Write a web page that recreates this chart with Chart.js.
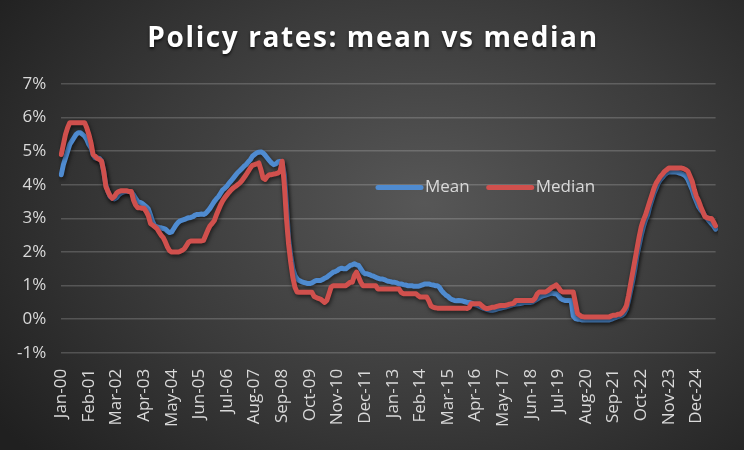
<!DOCTYPE html>
<html>
<head>
<meta charset="utf-8">
<script src="https://cdn.jsdelivr.net/npm/chart.js@4.4.1/dist/chart.umd.min.js"></script>
<style>
    html, body { margin: 0; padding: 0; }
    body {
        width: 744px;
        height: 450px;
        overflow: hidden;
        background: radial-gradient(ellipse 70% 85% at 57% 45%, #575757 0%, #3a3a3a 55%, #202020 100%);
    }
    #wrap { position: relative; width: 744px; height: 450px; }
</style>
</head>
<body>
<div id="wrap"><canvas id="chartRates"></canvas></div>
<script>
// monthly, Jan-2000 .. Sep-2025
const monthNames = ['Jan','Feb','Mar','Apr','May','Jun','Jul','Aug','Sep','Oct','Nov','Dec'];
const firstYear = 2000;
const labelEvery = 13;

const meanRates = [
    4.3, 4.6, 4.8, 5.0, 5.2, 5.3, 5.4, 5.5, 5.55, 5.55, 5.5, 5.45,
    5.35, 5.2, 5.1, 4.9, 4.8, 4.8, 4.78, 4.7, 4.4, 4.0, 3.8, 3.65,
    3.6, 3.58, 3.62, 3.7, 3.75, 3.78, 3.8, 3.8, 3.8, 3.78, 3.7, 3.6,
    3.5, 3.48, 3.45, 3.4, 3.35, 3.28, 3.1, 2.9, 2.78, 2.75, 2.73, 2.72,
    2.7, 2.68, 2.62, 2.58, 2.6, 2.7, 2.8, 2.88, 2.93, 2.95, 2.97, 3.0,
    3.02, 3.03, 3.05, 3.1, 3.12, 3.12, 3.13, 3.12, 3.15, 3.22, 3.3, 3.4,
    3.5, 3.58, 3.65, 3.75, 3.85, 3.9, 3.96, 4.05, 4.12, 4.2, 4.28, 4.36,
    4.42, 4.48, 4.55, 4.6, 4.68, 4.75, 4.85, 4.9, 4.95, 4.97, 4.98, 4.95,
    4.88, 4.8, 4.72, 4.65, 4.6, 4.62, 4.68, 4.7, 4.65, 4.3, 3.4, 2.4,
    1.9, 1.5, 1.3, 1.2, 1.15, 1.12, 1.1, 1.08, 1.06, 1.06, 1.08, 1.12,
    1.15, 1.15, 1.15, 1.18, 1.22, 1.25, 1.3, 1.35, 1.4, 1.42, 1.45, 1.5,
    1.52, 1.5, 1.5, 1.55, 1.6, 1.62, 1.65, 1.62, 1.6, 1.5, 1.4, 1.35,
    1.35, 1.33, 1.3, 1.28, 1.25, 1.22, 1.2, 1.2, 1.18, 1.15, 1.13, 1.12,
    1.1, 1.1, 1.08, 1.05, 1.05, 1.03, 1.02, 1.0, 1.0, 1.0, 0.98, 0.98,
    0.98, 1.0, 1.02, 1.05, 1.05, 1.05, 1.03, 1.02, 1.0, 1.0, 0.95, 0.85,
    0.78, 0.72, 0.68, 0.62, 0.58, 0.56, 0.55, 0.56, 0.55, 0.54, 0.52, 0.5,
    0.5, 0.48, 0.45, 0.43, 0.41, 0.38, 0.35, 0.32, 0.3, 0.28, 0.27, 0.27,
    0.28, 0.3, 0.32, 0.33, 0.35, 0.36, 0.38, 0.4, 0.42, 0.44, 0.45, 0.46,
    0.47, 0.48, 0.5, 0.5, 0.5, 0.5, 0.52, 0.56, 0.6, 0.64, 0.68, 0.7,
    0.72, 0.74, 0.76, 0.78, 0.76, 0.76, 0.7, 0.62, 0.58, 0.56, 0.56, 0.56,
    0.56, 0.1, 0.02, 0.0, 0.0, -0.02, -0.02, -0.02, -0.02, -0.02, -0.02, -0.02,
    -0.02, -0.02, -0.02, -0.02, -0.02, -0.02, -0.02, 0.0, 0.03, 0.05, 0.08, 0.1,
    0.12, 0.18, 0.3, 0.55, 0.85, 1.15, 1.5, 1.9, 2.2, 2.5, 2.75, 2.95,
    3.1, 3.35, 3.55, 3.75, 3.9, 4.05, 4.15, 4.22, 4.3, 4.35, 4.38, 4.38,
    4.38, 4.38, 4.37, 4.35, 4.33, 4.3, 4.25, 4.15, 4.0, 3.85, 3.65, 3.5,
    3.35, 3.25, 3.18, 3.08, 3.0, 2.92, 2.85, 2.78, 2.68
];

const medianRates = [
    4.9, 5.2, 5.5, 5.7, 5.85, 5.85, 5.85, 5.85, 5.85, 5.85, 5.85, 5.85,
    5.7, 5.5, 5.25, 4.9, 4.85, 4.78, 4.75, 4.7, 4.4, 3.95, 3.8, 3.67,
    3.6, 3.65, 3.75, 3.8, 3.82, 3.82, 3.82, 3.82, 3.8, 3.8, 3.55, 3.4,
    3.32, 3.32, 3.3, 3.3, 3.2, 3.08, 2.85, 2.8, 2.75, 2.7, 2.6, 2.5,
    2.43, 2.3, 2.15, 2.04, 2.0, 2.0, 2.0, 2.0, 2.02, 2.05, 2.1, 2.2,
    2.3, 2.33, 2.33, 2.33, 2.33, 2.33, 2.33, 2.35, 2.5, 2.65, 2.78, 2.85,
    2.93, 3.1, 3.25, 3.4, 3.52, 3.62, 3.7, 3.78, 3.85, 3.91, 3.95, 4.0,
    4.05, 4.12, 4.21, 4.3, 4.4, 4.5, 4.58, 4.6, 4.62, 4.65, 4.45, 4.2,
    4.16, 4.25, 4.3, 4.3, 4.32, 4.33, 4.35, 4.4, 4.7, 4.0, 3.0, 2.24,
    1.7, 1.25, 0.95, 0.81, 0.8, 0.8, 0.8, 0.8, 0.8, 0.8, 0.8, 0.68,
    0.65, 0.62, 0.6, 0.55, 0.5, 0.56, 0.75, 0.95, 1.0, 1.0, 1.0, 1.0,
    1.0, 1.0, 1.0, 1.05, 1.1, 1.1, 1.3, 1.4, 1.25, 1.1, 1.0, 1.0,
    1.0, 1.0, 1.0, 1.0, 1.0, 0.9, 0.9, 0.9, 0.9, 0.9, 0.9, 0.9,
    0.9, 0.9, 0.9, 0.9, 0.8, 0.76, 0.76, 0.76, 0.76, 0.76, 0.76, 0.76,
    0.7, 0.66, 0.66, 0.66, 0.66, 0.55, 0.4, 0.36, 0.34, 0.33, 0.33, 0.33,
    0.33, 0.33, 0.33, 0.33, 0.33, 0.33, 0.33, 0.33, 0.33, 0.33, 0.33, 0.32,
    0.35, 0.46, 0.46, 0.46, 0.46, 0.46, 0.4, 0.35, 0.32, 0.32, 0.34, 0.36,
    0.36, 0.38, 0.4, 0.41, 0.41, 0.41, 0.43, 0.45, 0.46, 0.48, 0.56, 0.56,
    0.56, 0.56, 0.56, 0.56, 0.56, 0.56, 0.56, 0.62, 0.75, 0.81, 0.81, 0.81,
    0.81, 0.85, 0.9, 0.95, 0.98, 1.02, 0.95, 0.85, 0.81, 0.81, 0.81, 0.81,
    0.81, 0.81, 0.5, 0.17, 0.12, 0.08, 0.07, 0.07, 0.07, 0.07, 0.07, 0.07,
    0.07, 0.07, 0.07, 0.07, 0.07, 0.07, 0.07, 0.1, 0.12, 0.12, 0.15, 0.15,
    0.2, 0.28, 0.4, 0.7, 1.05, 1.4, 1.75, 2.1, 2.45, 2.75, 2.95, 3.1,
    3.3, 3.5, 3.7, 3.9, 4.05, 4.15, 4.25, 4.32, 4.4, 4.45, 4.5, 4.5,
    4.5, 4.5, 4.5, 4.5, 4.5, 4.48, 4.45, 4.4, 4.25, 4.1, 3.85, 3.65,
    3.52, 3.35, 3.2, 3.05, 3.02, 3.0, 3.0, 2.9, 2.78
];

const yTicks = [-1, 0, 1, 2, 3, 4, 5, 6, 7];
const chartTitle = 'Policy rates: mean vs median';

// category labels like "Jan-00"
const labels = meanRates.map((v, i) => {
    const yr = firstYear + Math.floor(i / 12);
    return monthNames[i % 12] + '-' + String(yr).slice(2);
});

const colMean = '#4f8bd0';
const colMedian = '#d0504d';
const txtCol = '#d9d9d9';
const fontFam = '"Open Sans", sans-serif';

// soft shadow under the lines, like the excel original
const lineShadow = {
    id: 'lineShadow',
    beforeDatasetsDraw(chart) {
        const ctx = chart.ctx;
        ctx.save();
        ctx.shadowColor = 'rgba(0,0,0,0.6)';
        ctx.shadowBlur = 4;
        ctx.shadowOffsetX = 1;
        ctx.shadowOffsetY = 2;
    },
    afterDatasetsDraw(chart) {
        chart.ctx.restore();
    }
};

// spaced-out title (chart.js title has no letter spacing)
const spacedTitle = {
    id: 'spacedTitle',
    afterDraw(chart) {
        const ctx = chart.ctx;
        ctx.save();
        ctx.font = 'bold 28px ' + fontFam;
        ctx.letterSpacing = '1.6px';
        ctx.fillStyle = '#ffffff';
        ctx.textAlign = 'center';
        ctx.textBaseline = 'alphabetic';
        ctx.shadowColor = 'rgba(0,0,0,0.7)';
        ctx.shadowBlur = 3;
        ctx.shadowOffsetY = 2;
        ctx.fillText(chartTitle, 373, 47);
        ctx.restore();
    }
};

// legend sits inside the plot, middle-right
const inlineLegend = {
    id: 'inlineLegend',
    afterDraw(chart) {
        const ctx = chart.ctx;
        const y = chart.scales.y.getPixelForValue(3.92);
        let x = 378;
        ctx.save();
        ctx.font = '17px ' + fontFam;
        ctx.textBaseline = 'middle';
        ['Mean', 'Median'].forEach(name => {
            const ds = chart.data.datasets.find(d => d.label === name);
            ctx.strokeStyle = ds.borderColor;
            ctx.lineWidth = 5;
            ctx.lineCap = 'round';
            ctx.beginPath();
            ctx.moveTo(x, y);
            ctx.lineTo(x + 43, y);
            ctx.stroke();
            ctx.fillStyle = txtCol;
            ctx.fillText(name, x + 47, y);
            x += 47 + ctx.measureText(name).width + 19;
        });
        ctx.restore();
    }
};

const data = {
    labels: labels,
    datasets: [{
        label: 'Mean',
        data: meanRates,
        borderColor: colMean,
        backgroundColor: colMean,
        borderWidth: 5,
        borderJoinStyle: 'round',
        borderCapStyle: 'round',
        pointRadius: 0,
        tension: 0,
        order: 2
    }, {
        label: 'Median',
        data: medianRates,
        borderColor: colMedian,
        backgroundColor: colMedian,
        borderWidth: 5,
        borderJoinStyle: 'round',
        borderCapStyle: 'round',
        pointRadius: 0,
        tension: 0,
        order: 1
    }]
};

const config = {
    type: 'line',
    data: data,
    plugins: [lineShadow, inlineLegend, spacedTitle],
    options: {
        responsive: false,
        animation: false,
        devicePixelRatio: 1,
        layout: {
            padding: { left: 2, right: 20, top: 84, bottom: 15 }
        },
        plugins: {
            legend: { display: false },
            tooltip: { enabled: false },
            title: { display: false }
        },
        scales: {
            x: {
                offset: false,
                grid: { display: false },
                border: { display: false },
                ticks: {
                    color: txtCol,
                    autoSkip: false,
                    minRotation: 90,
                    maxRotation: 90,
                    padding: 8,
                    font: { family: fontFam, size: 17 },
                    callback: function (val, i) {
                        return i % labelEvery === 0 ? labels[i] : '';
                    }
                }
            },
            y: {
                min: yTicks[0],
                max: yTicks[yTicks.length - 1],
                afterBuildTicks: (axis) => {
                    axis.ticks = yTicks.map(v => ({ value: v }));
                },
                grid: {
                    color: 'rgba(255,255,255,0.18)',
                    lineWidth: 1.5,
                    drawTicks: false
                },
                border: { display: false },
                ticks: {
                    color: txtCol,
                    padding: 15,
                    font: { family: fontFam, size: 17 },
                    callback: v => v + '%'
                }
            }
        }
    }
};

const cv = document.getElementById('chartRates');
cv.width = 744;
cv.height = 450;
const chartRates = new Chart(cv, config);
</script>
</body>
</html>
